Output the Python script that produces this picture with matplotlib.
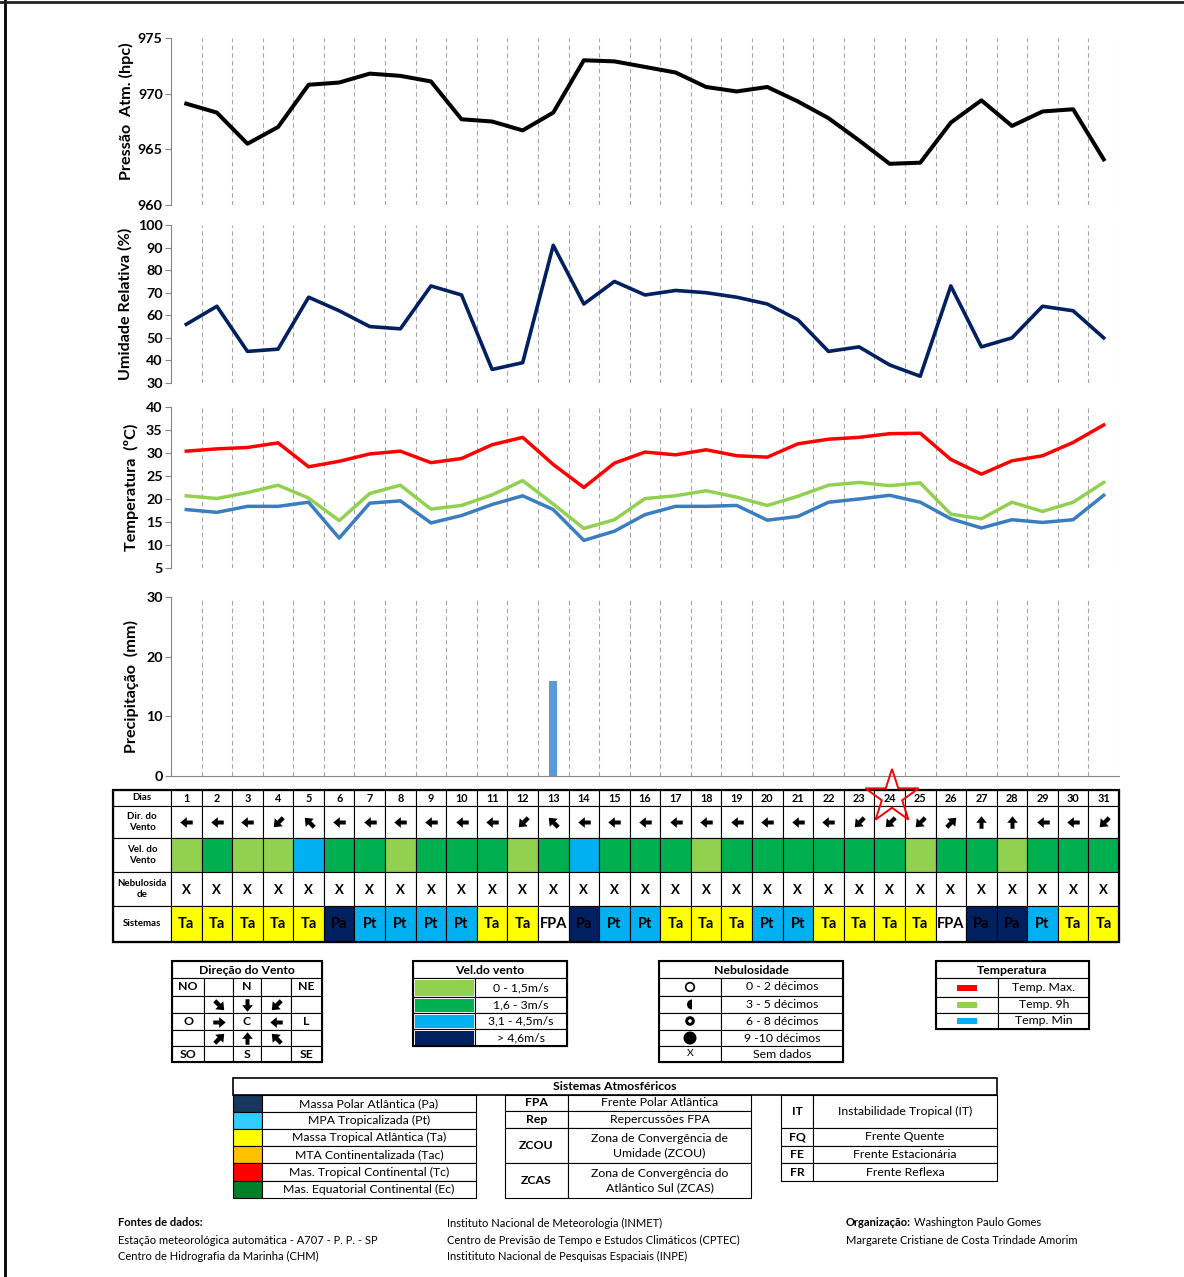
import numpy as np
import matplotlib.pyplot as plt
from matplotlib.patches import Rectangle, Circle, Wedge, Polygon
from matplotlib.path import Path

plt.rcParams['font.family'] = ['Lato', 'DejaVu Sans']

W, H = 1184, 1277

# ---- data ----
dias = list(range(1, 32))
pressao = [969.1, 968.3, 965.5, 967.0, 970.8, 971.0, 971.8, 971.6, 971.1, 967.7,
           967.5, 966.7, 968.3, 973.0, 972.9, 972.4, 971.9, 970.6, 970.2, 970.6,
           969.3, 967.8, 965.8, 963.7, 963.8, 967.4, 969.4, 967.1, 968.4, 968.6, 964.1]
umidade = [56, 64, 44, 45, 68, 62, 55, 54, 73, 69, 36, 39, 91, 65, 75, 69,
           71, 70, 68, 65, 58, 44, 46, 38, 33, 73, 46, 50, 64, 62, 50]
t_max = [30.4, 30.9, 31.2, 32.2, 27.0, 28.2, 29.8, 30.4, 27.9, 28.8, 31.8, 33.4,
         27.5, 22.5, 27.8, 30.2, 29.6, 30.7, 29.4, 29.1, 32.0, 33.0, 33.4, 34.2,
         34.3, 28.6, 25.4, 28.3, 29.4, 32.3, 36.1]
t_9h = [20.7, 20.1, 21.4, 23.0, 20.2, 15.3, 21.2, 23.0, 17.8, 18.6, 20.9, 24.0,
        18.9, 13.6, 15.5, 20.1, 20.7, 21.8, 20.4, 18.6, 20.6, 23.0, 23.6, 22.9,
        23.5, 16.7, 15.7, 19.3, 17.3, 19.3, 23.6]
t_min = [17.7, 17.1, 18.4, 18.4, 19.3, 11.5, 19.1, 19.6, 14.8, 16.4, 18.8, 20.7,
         17.7, 11.0, 13.0, 16.6, 18.4, 18.4, 18.6, 15.4, 16.2, 19.3, 20.0, 20.8,
         19.3, 15.7, 13.7, 15.5, 14.9, 15.5, 20.8]
precip = [0, 0, 0, 0, 0, 0, 0, 0, 0, 0, 0, 0, 16, 0, 0, 0,
          0, 0, 0, 0, 0, 0, 0, 0, 0, 0, 0, 0, 0, 0, 0]
dir_vento = ['L', 'L', 'L', 'NE', 'SE', 'L', 'L', 'L', 'L', 'L', 'L', 'NE', 'SE', 'L', 'L', 'L',
             'L', 'L', 'L', 'L', 'L', 'L', 'NE', 'NE', 'NE', 'SO', 'S', 'S', 'L', 'L', 'NE']
vel_vento = [1, 2, 1, 1, 3, 2, 2, 1, 2, 2, 2, 1, 2, 3, 2, 2,
             2, 1, 2, 2, 2, 2, 2, 2, 1, 2, 2, 1, 2, 2, 2]
nebulosidade = ['X', 'X', 'X', 'X', 'X', 'X', 'X', 'X', 'X', 'X', 'X', 'X', 'X', 'X', 'X', 'X',
                'X', 'X', 'X', 'X', 'X', 'X', 'X', 'X', 'X', 'X', 'X', 'X', 'X', 'X', 'X']
sistemas = ['Ta', 'Ta', 'Ta', 'Ta', 'Ta', 'Pa', 'Pt', 'Pt', 'Pt', 'Pt', 'Ta', 'Ta', 'FPA', 'Pa', 'Pt', 'Pt',
            'Ta', 'Ta', 'Ta', 'Pt', 'Pt', 'Ta', 'Ta', 'Ta', 'Ta', 'FPA', 'Pa', 'Pa', 'Pt', 'Ta', 'Ta']

vel_cores = {1: '#92d050', 2: '#00b050', 3: '#00b0f0', 4: '#002060'}
vel_faixas = ['0 - 1,5m/s', '1,6 - 3m/s', '3,1 - 4,5m/s', '> 4,6m/s']
sis_cores = {'Ta': '#ffff00', 'Pa': '#002060', 'Pt': '#00b0f0', 'FPA': 'white'}
# arrow points to where the wind goes (screen x right, y down)
vec = {'N': (0, 1), 'NE': (-1, 1), 'L': (-1, 0), 'SE': (-1, -1),
       'S': (0, -1), 'SO': (1, -1), 'O': (1, 0), 'NO': (1, 1)}

# block arrow pointing to +x, used as a marker
seta = np.array([[1, 0], [-0.05, 0.85], [-0.05, 0.32], [-1, 0.32],
                 [-1, -0.32], [-0.05, -0.32], [-0.05, -0.85], [1, 0]])


def seta_marker(d):
    ux, uy = vec[d]
    a = np.arctan2(-uy, ux)
    rot = np.array([[np.cos(a), -np.sin(a)], [np.sin(a), np.cos(a)]])
    return Path(seta @ rot.T, closed=True)


def box(x0, y0, x1, y1):
    return [x0 / W, 1 - y1 / H, (x1 - x0) / W, (y1 - y0) / H]


fig = plt.figure(figsize=(W / 100, H / 100), dpi=100)

X0, X1 = 171, 1119
colw = (X1 - X0) / 31


def chart(y0, y1, ylim, ticks, label, lab_x, lab_y=0.5):
    ax = fig.add_axes(box(X0, y0, X1, y1))
    ax.set_xlim(0.5, 31.5)
    ax.set_ylim(*ylim)
    ax.set_yticks(ticks)
    ax.set_xticks([])
    for s in ['top', 'right', 'bottom']:
        ax.spines[s].set_visible(False)
    ax.spines['left'].set_color('#868686')
    ax.tick_params(axis='y', length=4, color='#868686', labelsize=10.3, pad=2)
    plt.setp(ax.get_yticklabels(), fontweight='bold')
    for xv in np.arange(1.5, 32, 1):
        ax.axvline(xv, color='#a6a6a6', lw=0.8, ls=(0, (4, 3)), zorder=0)
    ax.set_ylabel(label, fontsize=11.6, fontweight='bold')
    ax.yaxis.set_label_coords((lab_x - X0) / (X1 - X0), lab_y)
    ax.patch.set_alpha(0)
    return ax


ax1 = chart(38, 205, (960, 975), [960, 965, 970, 975], 'Pressão  Atm. (hpc)', 134, 0.56)
ax1.plot(dias, pressao, color='black', lw=2.9)

ax2 = chart(225, 383, (30, 100), range(30, 101, 10), 'Umidade Relativa (%)', 133)
ax2.plot(dias, umidade, color='#002060', lw=2.6)

ax3 = chart(407, 568, (5, 40), range(5, 41, 5), 'Temperatura  (ºC)', 139)
ax3.plot(dias, t_max, color='#ff0000', lw=2.5)
ax3.plot(dias, t_9h, color='#92d050', lw=2.5)
ax3.plot(dias, t_min, color='#3a7dc1', lw=2.5)

ax4 = chart(597, 776, (0, 30), [0, 10, 20, 30], 'Precipitação  (mm)', 139)
ax4.spines['bottom'].set_visible(True)
ax4.spines['bottom'].set_color('#868686')
ax4.bar(dias, precip, width=0.27, color='#5b9bd5', zorder=2)

# ---- daily table ----
tab = fig.add_axes(box(X0, 790, X1, 942))
tab.set_xlim(0.5, 31.5)
tab.set_ylim(152, 0)
tab.axis('off')
rows = [0, 16, 48, 82, 116, 152]
lab_left = 0.5 - (X0 - 113) / colw
row_labels = ['Dias', 'Dir. do\nVento', 'Vel. do\nVento', 'Nebulosida\nde', 'Sistemas']
for r in range(5):
    h = rows[r + 1] - rows[r]
    yc = (rows[r] + rows[r + 1]) / 2
    tab.add_patch(Rectangle((lab_left, rows[r]), 0.5 - lab_left, h, facecolor='white',
                            edgecolor='k', lw=0.8, clip_on=False))
    tab.text((lab_left + 0.5) / 2, yc, row_labels[r], ha='center', va='center',
             fontsize=7, fontweight='bold', linespacing=1.3, clip_on=False)

for i, d in enumerate(dias):
    fcs = ['white', 'white', vel_cores[vel_vento[i]], 'white', sis_cores[sistemas[i]]]
    for r in range(5):
        tab.add_patch(Rectangle((d - 0.5, rows[r]), 1, rows[r + 1] - rows[r],
                                facecolor=fcs[r], edgecolor='k', lw=0.8, clip_on=False))
    tab.text(d, 8.5, str(d), ha='center', va='center', fontsize=7.8, fontweight='bold')
    tab.plot(d, 32, marker=seta_marker(dir_vento[i]), ms=9, color='k', mew=0, ls='none')
    tab.text(d, 99.5, nebulosidade[i], ha='center', va='center', fontsize=9.5, fontweight='bold')
    tab.text(d, 134.5, sistemas[i], ha='center', va='center', fontsize=10.5, fontweight='bold')

tab.add_patch(Rectangle((lab_left, 0), 31.5 - lab_left, 152, fill=False, edgecolor='k',
                        lw=1.6, clip_on=False))

# ---- overlay in pixel coordinates for legends, notes and frame ----
ov = fig.add_axes([0, 0, 1, 1])
ov.set_xlim(0, W)
ov.set_ylim(H, 0)
ov.axis('off')
ov.patch.set_alpha(0)

FS = 8.8


def cell(x0, y0, x1, y1, fc='white', lw=0.8):
    ov.add_patch(Rectangle((x0, y0), x1 - x0, y1 - y0, facecolor=fc, edgecolor='k', lw=lw))


def txt(x, y, s, bold=False, size=FS, ha='center'):
    return ov.text(x, y, s, ha=ha, va='center', fontsize=size,
                   fontweight='bold' if bold else 'normal', linespacing=1.35)


# Direção do Vento
dcols = [172, 204, 233, 261, 291, 322]
drows = [978, 996, 1013, 1030, 1046, 1062]
cell(172, 961, 322, 978)
txt(247, 970, 'Direção do Vento', bold=True)
dgrid = [['NO', '', 'N', '', 'NE'],
         ['', 'NO', 'N', 'NE', ''],
         ['O', 'O', 'C', 'L', 'L'],
         ['', 'SO', 'S', 'SE', ''],
         ['SO', '', 'S', '', 'SE']]
for r in range(5):
    for c in range(5):
        cell(dcols[c], drows[r], dcols[c + 1], drows[r + 1])
        xc = (dcols[c] + dcols[c + 1]) / 2
        yc = (drows[r] + drows[r + 1]) / 2
        v = dgrid[r][c]
        if v and (r in (0, 4) or c in (0, 4) or v == 'C'):
            txt(xc, yc, v, bold=True)
        elif v:
            ov.plot(xc, yc, marker=seta_marker(v), ms=9, color='k', mew=0, ls='none')
ov.add_patch(Rectangle((172, 961), 150, 101, fill=False, edgecolor='k', lw=1.5))

# Vel. do vento
vrows = [978, 997, 1013, 1029, 1046]
cell(413, 961, 567, 978)
txt(490, 970, 'Vel.do vento', bold=True)
for k in range(4):
    cell(413, vrows[k], 475, vrows[k + 1])
    ov.add_patch(Rectangle((414.5, vrows[k] + 1.5), 59, vrows[k + 1] - vrows[k] - 3,
                           facecolor=vel_cores[k + 1], edgecolor='none'))
    cell(475, vrows[k], 567, vrows[k + 1])
    txt(521, (vrows[k] + vrows[k + 1]) / 2, vel_faixas[k])
ov.add_patch(Rectangle((413, 961), 154, 85, fill=False, edgecolor='k', lw=1.5))

# Nebulosidade
nrows = [978, 996, 1013, 1030, 1046, 1062]
neb_txt = ['0 - 2 décimos', '3 - 5 décimos', '6 - 8 décimos', '9 -10 décimos', 'Sem dados']
cell(659, 961, 843, 978)
txt(751, 970, 'Nebulosidade', bold=True)
for k in range(5):
    cell(659, nrows[k], 721, nrows[k + 1])
    cell(721, nrows[k], 843, nrows[k + 1])
    txt(782, (nrows[k] + nrows[k + 1]) / 2, neb_txt[k])
ov.add_patch(Circle((690, 987), 4.3, facecolor='white', edgecolor='k', lw=1.2))
ov.add_patch(Wedge((692, 1004.5), 5, 90, 270, facecolor='k'))
ov.add_patch(Circle((690, 1021), 4.8, facecolor='k'))
ov.add_patch(Circle((690, 1021), 1.8, facecolor='white'))
ov.add_patch(Circle((690, 1038), 6.5, facecolor='k'))
txt(690, 1054, 'X', size=7.5)
ov.add_patch(Rectangle((659, 961), 184, 101, fill=False, edgecolor='k', lw=1.5))

# Temperatura
trows = [978, 997, 1013, 1029]
cell(936, 961, 1089, 978)
txt(1012, 970, 'Temperatura', bold=True)
for k, (c, s) in enumerate(zip(['#ff0000', '#92d050', '#00b0f0'],
                               ['Temp. Max.', 'Temp. 9h', 'Temp. Min'])):
    cell(936, trows[k], 998, trows[k + 1])
    cell(998, trows[k], 1089, trows[k + 1])
    yc = (trows[k] + trows[k + 1]) / 2
    ov.add_patch(Rectangle((957, yc - 3), 20, 6, facecolor=c, edgecolor='none'))
    txt(1044, yc, s)
ov.add_patch(Rectangle((936, 961), 153, 68, fill=False, edgecolor='k', lw=1.5))

# Sistemas Atmosféricos
cell(233, 1078, 997, 1095, lw=1.2)
txt(615, 1086.5, 'Sistemas Atmosféricos', bold=True)
srows = [1095, 1112, 1129, 1146, 1163, 1181, 1198]
s_cores = ['#17375e', '#33ccff', '#ffff00', '#ffc000', '#ff0000', '#00802b']
s_nomes = ['Massa Polar Atlântica (Pa)', 'MPA Tropicalizada (Pt)', 'Massa Tropical Atlântica (Ta)',
           'MTA Continentalizada (Tac)', 'Mas. Tropical Continental (Tc)',
           'Mas. Equatorial Continental (Ec)']
for k in range(6):
    cell(233, srows[k], 262, srows[k + 1], fc=s_cores[k])
    cell(262, srows[k], 476, srows[k + 1])
    txt(369, (srows[k] + srows[k + 1]) / 2, s_nomes[k])
mrows = [1095, 1111, 1128, 1163, 1198]
m_cod = ['FPA', 'Rep', 'ZCOU', 'ZCAS']
m_nom = ['Frente Polar Atlântica', 'Repercussões FPA', 'Zona de Convergência de\nUmidade (ZCOU)',
         'Zona de Convergência do\nAtlântico Sul (ZCAS)']
for k in range(4):
    yc = (mrows[k] + mrows[k + 1]) / 2
    cell(505, mrows[k], 568, mrows[k + 1])
    cell(568, mrows[k], 751, mrows[k + 1])
    txt(536.5, yc, m_cod[k], bold=True)
    txt(659.5, yc, m_nom[k])
rrows = [1095, 1128, 1146, 1163, 1181]
r_cod = ['IT', 'FQ', 'FE', 'FR']
r_nom = ['Instabilidade Tropical (IT)', 'Frente Quente', 'Frente Estacionária', 'Frente Reflexa']
for k in range(4):
    yc = (rrows[k] + rrows[k + 1]) / 2
    cell(781, rrows[k], 813, rrows[k + 1])
    cell(813, rrows[k], 997, rrows[k + 1])
    txt(797, yc, r_cod[k], bold=True)
    txt(905, yc, r_nom[k])

# footer
FF = 8
txt(118, 1223, 'Fontes de dados:', bold=True, size=FF, ha='left')
txt(118, 1240, 'Estação meteorológica automática - A707 - P. P. - SP', size=FF, ha='left')
txt(118, 1256, 'Centro de Hidrografia da Marinha (CHM)', size=FF, ha='left')
txt(447, 1223, 'Instituto Nacional de Meteorologia (INMET)', size=FF, ha='left')
txt(447, 1240, 'Centro de Previsão de Tempo e Estudos Climáticos (CPTEC)', size=FF, ha='left')
txt(447, 1256, 'Institituto Nacional de Pesquisas Espaciais (INPE)', size=FF, ha='left')
org = txt(846, 1223, 'Organização:', bold=True, size=FF, ha='left')
fig.canvas.draw()
bb = org.get_window_extent().transformed(ov.transData.inverted())
txt(max(bb.x0, bb.x1) + 3, 1223, 'Washington Paulo Gomes', size=FF, ha='left')
txt(846, 1240, 'Margarete Cristiane de Costa Trindade Amorim', size=FF, ha='left')

# red star on day 24
cx, cy, R, r = 892, 797, 28, 10.7
ang = -np.pi / 2 + np.arange(10) * np.pi / 5
rad = np.where(np.arange(10) % 2 == 0, R, r)
ov.add_patch(Polygon(np.c_[cx + rad * np.cos(ang), cy + rad * np.sin(ang)], closed=True,
                     fill=False, edgecolor='#ff0000', lw=1.4, zorder=5))

# page frame
ov.plot([5, 5], [0, H], color='black', lw=2)
ov.plot([0, W], [2, 2], color='#222222', lw=2)

fig.savefig('out.png', dpi=100)
